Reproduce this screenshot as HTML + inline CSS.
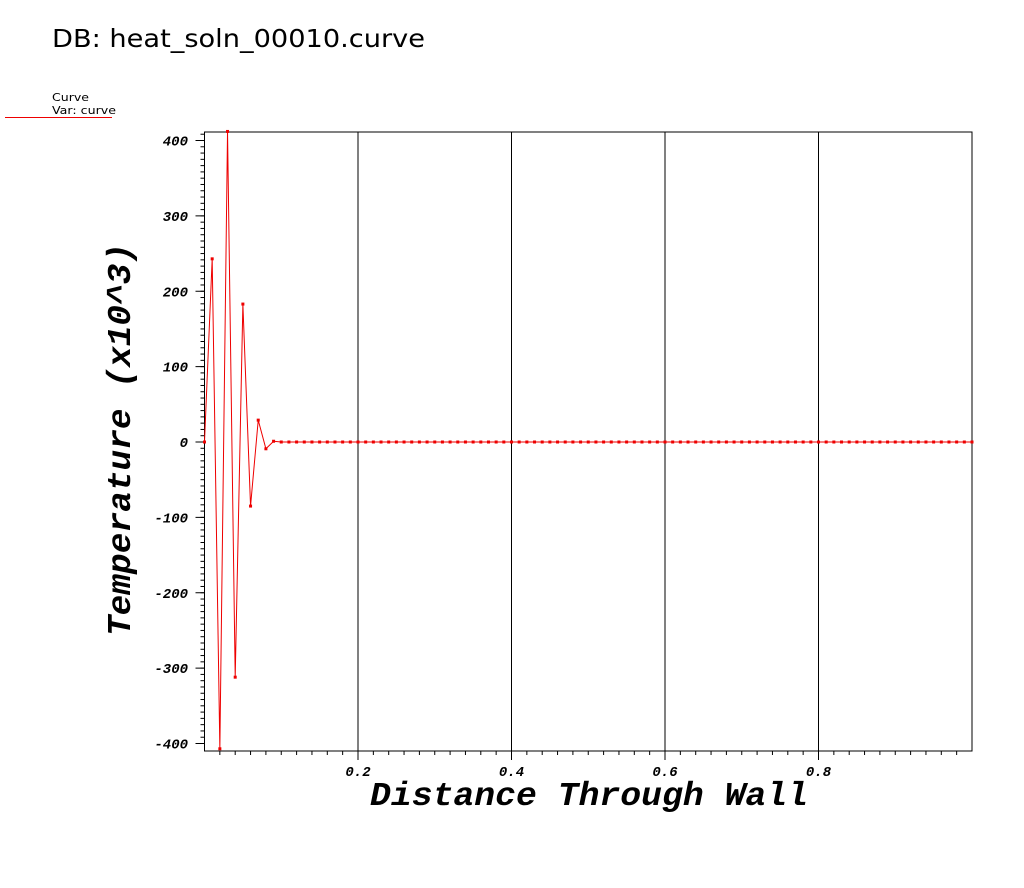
<!DOCTYPE html>
<html><head><meta charset="utf-8"><style>
body{margin:0;background:#fff;width:1024px;height:883px;overflow:hidden}
text{font-family:"Liberation Mono",monospace}
</style></head><body>
<svg id="chart" width="1024" height="883" xmlns="http://www.w3.org/2000/svg">
<text x="52" y="47" textLength="373" lengthAdjust="spacingAndGlyphs" style="font-family:'DejaVu Sans',sans-serif;font-size:25px">DB: heat_soln_00010.curve</text>
<g>
<text x="52" y="101" textLength="37" lengthAdjust="spacingAndGlyphs" style="font-family:'DejaVu Sans',sans-serif;font-size:11px">Curve</text>
<text x="52" y="114" textLength="64" lengthAdjust="spacingAndGlyphs" style="font-family:'DejaVu Sans',sans-serif;font-size:11px">Var: curve</text>
<line x1="5" y1="117.5" x2="112" y2="117.5" stroke="#e00" stroke-width="1"/>
</g>
<g id="axes"></g>
<g id="series"></g>
<text x="370" y="805" textLength="438" lengthAdjust="spacingAndGlyphs" style="font-size:33px;font-weight:bold;font-style:italic">Distance Through Wall</text>
<text transform="translate(130,636) rotate(-90)" textLength="393" lengthAdjust="spacingAndGlyphs" style="font-size:33px;font-weight:bold;font-style:italic">Temperature (x10^3)</text>
</svg>
<script>
const xTicks=[0.2,0.4,0.6,0.8];
const xTickLabels=["0.2","0.4","0.6","0.8"];
const yTicks=[-400,-300,-200,-100,0,100,200,300,400];
const yTickLabels=["-400","-300","-200","-100","0","100","200","300","400"];
const xHead=[0,0.01,0.02,0.03,0.04,0.05,0.06,0.07,0.08,0.09];
const yHead=[0,243,-407,412,-312,183,-85,29,-9,1];
const xTail=[];for(let i=10;i<=100;i++)xTail.push(i/100);
const yTail=xTail.map(()=>0);
const xs=xHead.concat(xTail), ys=yHead.concat(yTail);

const L=204.5,R=972,T=132,B=751;
const X=v=>L+v*(R-L);
const Y=v=>442-v*(301.5/400);
const NS="http://www.w3.org/2000/svg";
function mk(tag,attrs,parent){const e=document.createElementNS(NS,tag);for(const k in attrs)e.setAttribute(k,attrs[k]);parent.appendChild(e);return e;}
const ax=document.getElementById('axes');
let fr=mk('rect',{x:L,y:T,width:R-L,height:B-T,fill:'none',stroke:'#000','stroke-width':1},ax);


for(let v=0.02;v<1;v+=0.02){const t=mk('line',{x1:X(v),x2:X(v),y1:B,y2:B+4,stroke:'#000'},ax);

}
xTicks.forEach((v,i)=>{
 const g=mk('line',{x1:X(v),x2:X(v),y1:T,y2:B+9,stroke:'#000'},ax);
 
 
 const t=mk('text',{x:X(v),y:B+25,'text-anchor':'middle','font-size':'14','font-weight':'bold','font-style':'italic'},ax);
 t.textContent=xTickLabels[i];
 
 
});
for(let v=-400;v<=410;v+=100/12){const y=Y(v);if(y<T-1||y>B)continue;const t=mk('line',{x1:L-4,x2:L,y1:y,y2:y,stroke:'#000'},ax);

}
yTicks.forEach((v,i)=>{
 const tk=mk('line',{x1:L-9,x2:L,y1:Y(v),y2:Y(v),stroke:'#000'},ax);
 
 
 const t=mk('text',{x:188,y:Y(v)+5,'text-anchor':'end','font-size':'14','font-weight':'bold','font-style':'italic'},ax);
 t.textContent=yTickLabels[i];
 
 
});
const sg=document.getElementById('series');
const pl=mk('polyline',{points:xs.map((x,i)=>X(x)+','+Y(ys[i])).join(' '),fill:'none',stroke:'#e00','stroke-width':1},sg);


xs.forEach((x,i)=>{const p=mk('rect',{x:X(x)-1.5,y:Y(ys[i])-1.5,width:3,height:3,fill:'#e00'},sg);

});
</script>
</body></html>
